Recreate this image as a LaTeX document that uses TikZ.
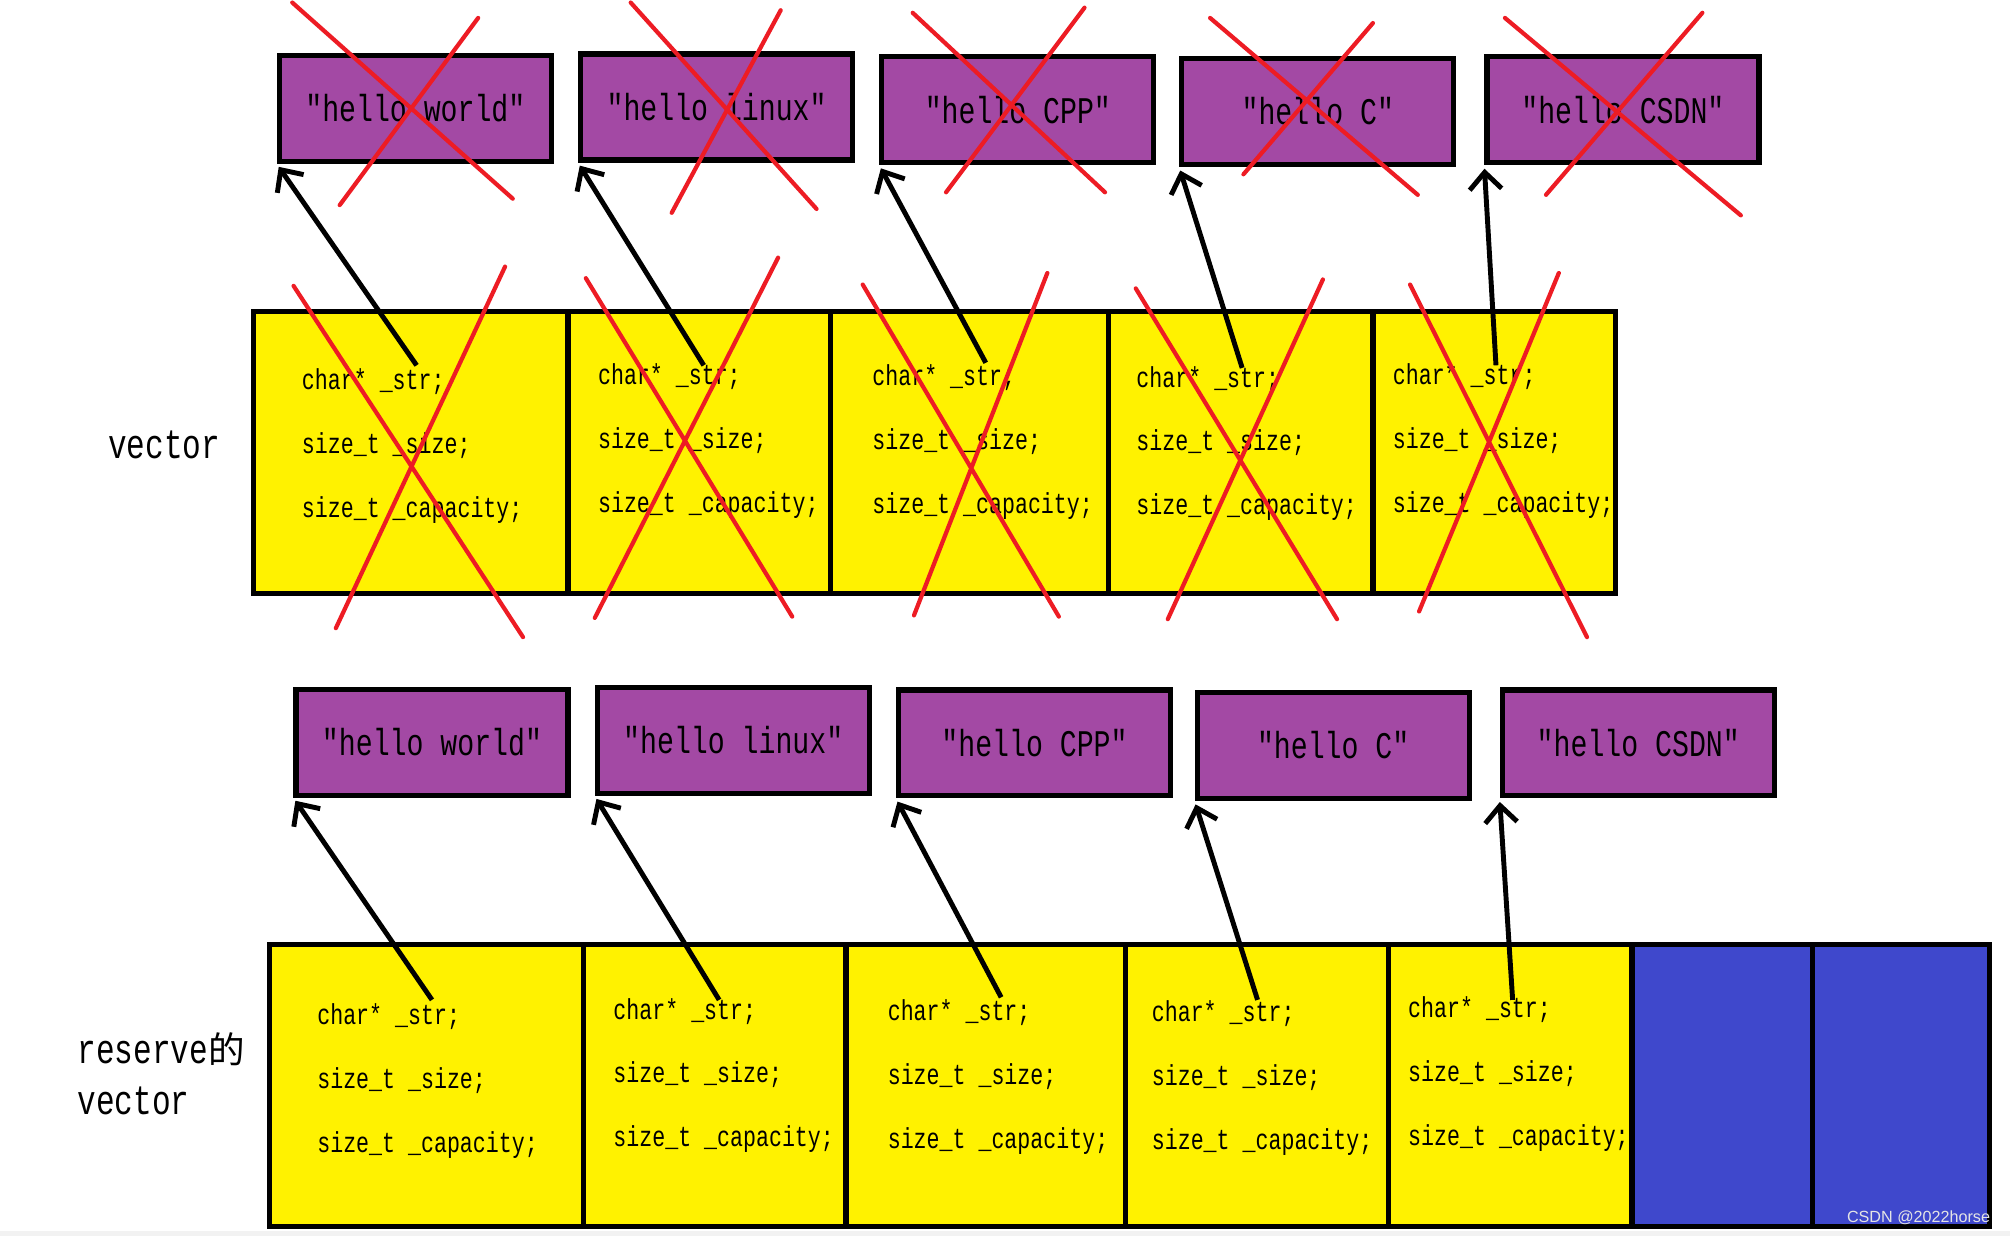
\documentclass[tikz,border=0pt]{standalone}
\usepackage{fontspec}
\setmonofont[FakeStretch=0.75]{Liberation Mono}
\newfontfamily\cjk{Noto Sans CJK SC}
\newfontfamily\wmfont{Liberation Sans}
\usetikzlibrary{arrows.meta}
\usetikzlibrary{fit}

\definecolor{paintpurple}{HTML}{A349A4}
\definecolor{paintyellow}{HTML}{FFF200}
\definecolor{paintblue}{HTML}{3F48CC}
\definecolor{paintred}{HTML}{ED1C24}

\begin{document}
\begin{tikzpicture}[x=0.1282mm,y=-0.1282mm,
  strbox/.style={draw,line width=1.5pt,fill=paintpurple,minimum width=2.72cm,minimum height=1.06cm,inner sep=0pt,font=\fontsize{10.7}{12}\selectfont\ttfamily},
  cell/.style={draw,line width=1.5pt,fill=paintyellow,inner sep=0pt},
  freecell/.style={cell,fill=paintblue},
  code/.style={anchor=west,align=left,inner sep=0pt,font=\fontsize{8.2}{18.2}\selectfont\ttfamily},
  ptr/.style={line width=1.4pt,-{Straight Barb[length=1.7mm,width=3.2mm]},shorten >=1pt},
  cross/.style={paintred,line width=1.2pt,line cap=round}]
  \useasboundingbox (0,0) rectangle (1568,964);
  \fill[gray!10] (0,960) rectangle (1568,964);

  % strings of the vector
  \node[strbox] (str1) at (324,84.5) {″hello world″};
  \node[strbox] (str2) at (559,83.5) {″hello linux″};
  \node[strbox] (str3) at (794,85.5) {″hello CPP″};
  \node[strbox] (str4) at (1028,87) {″hello C″};
  \node[strbox] (str5) at (1266,85.5) {″hello CSDN″};

  % vector
  \node[font=\fontsize{11.8}{13.5}\selectfont\ttfamily] (lblvec) at (128,347) {vector};
  \node[cell,fit={(198,243) (443,463)}] (vec1) {};
  \node[cell,fit={(443,243) (648,463)}] (vec2) {};
  \node[cell,fit={(648,243) (865,463)}] (vec3) {};
  \node[cell,fit={(865,243) (1071,463)}] (vec4) {};
  \node[cell,fit={(1071,243) (1260,463)}] (vec5) {};
  \node[code] (code1) at (235,348) {char* \_str;\\size\_t \_size;\\size\_t \_capacity;};
  \node[code] (code2) at (466,344) {char* \_str;\\size\_t \_size;\\size\_t \_capacity;};
  \node[code] (code3) at (680,345) {char* \_str;\\size\_t \_size;\\size\_t \_capacity;};
  \node[code] (code4) at (886,346) {char* \_str;\\size\_t \_size;\\size\_t \_capacity;};
  \node[code] (code5) at (1086,344) {char* \_str;\\size\_t \_size;\\size\_t \_capacity;};

  \coordinate (p1) at (325,285);
  \coordinate (p2) at (549,285);
  \coordinate (p3) at (769,283);
  \coordinate (p4) at (969,287);
  \coordinate (p5) at (1167,285);
  \draw[ptr] (p1) -- (str1.south west);
  \draw[ptr] (p2) -- (str2.south west);
  \draw[ptr] (p3) -- (str3.south west);
  \draw[ptr] (p4) -- (str4.south west);
  \draw[ptr] (p5) -- (str5.south west);

  % strings of the reserved vector
  \node[strbox] (rstr1) at (337,579) {″hello world″};
  \node[strbox] (rstr2) at (572,577.5) {″hello linux″};
  \node[strbox] (rstr3) at (807,579.5) {″hello CPP″};
  \node[strbox] (rstr4) at (1040,581.5) {″hello C″};
  \node[strbox] (rstr5) at (1278,579.5) {″hello CSDN″};

  % reserved vector
  \node[anchor=west,align=left,inner sep=0pt,font=\fontsize{11.8}{14.5}\selectfont\ttfamily] (lblres) at (60,838) {reserve{\cjk\fontsize{10.4}{14.5}\selectfont 的}\\vector};
  \node[cell,fit={(210,737) (455,957)}] (res1) {};
  \node[cell,fit={(455,737) (660,957)}] (res2) {};
  \node[cell,fit={(660,737) (878,957)}] (res3) {};
  \node[cell,fit={(878,737) (1083,957)}] (res4) {};
  \node[cell,fit={(1083,737) (1273,957)}] (res5) {};
  \node[freecell,fit={(1273,737) (1414,957)}] (res6) {};
  \node[freecell,fit={(1414,737) (1552,957)}] (res7) {};
  \node[code] (rcode1) at (247,843) {char* \_str;\\size\_t \_size;\\size\_t \_capacity;};
  \node[code] (rcode2) at (478,839) {char* \_str;\\size\_t \_size;\\size\_t \_capacity;};
  \node[code] (rcode3) at (692,840) {char* \_str;\\size\_t \_size;\\size\_t \_capacity;};
  \node[code] (rcode4) at (898,841) {char* \_str;\\size\_t \_size;\\size\_t \_capacity;};
  \node[code] (rcode5) at (1098,838) {char* \_str;\\size\_t \_size;\\size\_t \_capacity;};

  \coordinate (q1) at (337,780);
  \coordinate (q2) at (561,780);
  \coordinate (q3) at (781,778);
  \coordinate (q4) at (981,780);
  \coordinate (q5) at (1180,780);
  \draw[ptr] (q1) -- (rstr1.south west);
  \draw[ptr] (q2) -- (rstr2.south west);
  \draw[ptr] (q3) -- (rstr3.south west);
  \draw[ptr] (q4) -- (rstr4.south west);
  \draw[ptr] (q5) -- (rstr5.south west);

  % crossed out
  \draw[cross] (228,2) -- (400,155) (373,14) -- (265,160);
  \draw[cross] (492,2) -- (637,163) (609,8) -- (524,166);
  \draw[cross] (712,10) -- (862,150) (846,6) -- (738,150);
  \draw[cross] (944,14) -- (1106,152) (1071,18) -- (970,136);
  \draw[cross] (1174,14) -- (1358,168) (1328,10) -- (1206,152);
  \draw[cross] (229,223) -- (408,497) (394,208) -- (262,490);
  \draw[cross] (457,217) -- (618,481) (607,201) -- (464,482);
  \draw[cross] (673,222) -- (826,481) (817,213) -- (713,480);
  \draw[cross] (886,225) -- (1043,483) (1032,218) -- (911,483);
  \draw[cross] (1100,222) -- (1238,497) (1216,213) -- (1107,477);

  \node[anchor=south east,inner sep=0pt,font=\fontsize{4.6}{5}\selectfont\wmfont,text=white!80!gray] (wm) at (1553,956) {CSDN @2022horse};
\end{tikzpicture}
\end{document}
